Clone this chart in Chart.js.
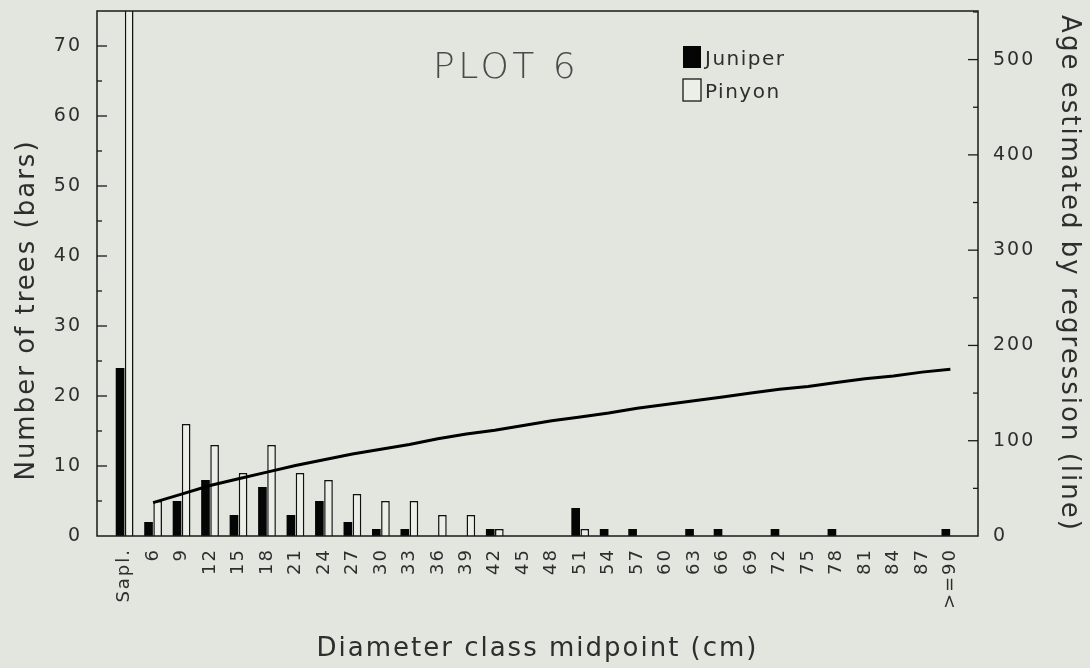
<!DOCTYPE html>
<html>
<head>
<meta charset="utf-8">
<script src="https://cdn.jsdelivr.net/npm/chart.js@4.4.1/dist/chart.umd.min.js"></script>
<style>
  html, body { margin: 0; padding: 0; background: #e3e6df; }
  canvas { display: block; }
</style>
</head>
<body>
<canvas id="plot6" width="1090" height="668"></canvas>
<script>
// diameter classes (cm), first one is saplings
const categories = ["Sapl.", "6", "9", "12", "15", "18", "21", "24", "27", "30", "33", "36", "39", "42", "45",
  "48", "51", "54", "57", "60", "63", "66", "69", "72", "75", "78", "81", "84", "87", ">=90"];

// number of trees per class (left axis)
const juniper = [24, 2, 5, 8, 3, 7, 3, 5, 2, 1, 1, 0, 0, 1, 0, 0, 4, 1, 1, 0, 1, 1, 0, 1, 0, 1, 0, 0, 0, 1];
const pinyon = [80, 5, 16, 13, 9, 13, 9, 8, 6, 5, 5, 3, 3, 1, 0, 0, 1, 0, 0, 0, 0, 0, 0, 0, 0, 0, 0, 0, 0, 0];

// regression age for classes 6 .. >=90 (right axis)
const age = [35, 44, 53, 60, 67, 74, 80, 86, 91, 96, 102, 107, 111, 116, 121, 125, 129, 134, 138, 142,
  146, 150, 154, 157, 161, 165, 168, 172, 175];

const leftTicks = [0, 10, 20, 30, 40, 50, 60, 70];
const rightTicks = [0, 100, 200, 300, 400, 500];

const textColor = "#2e2e2e";
const family = "'DejaVu Sans', sans-serif";

function noPadding(scale) {
  scale.paddingLeft = 0;
  scale.paddingRight = 0;
  scale.paddingTop = 0;
  scale.paddingBottom = 0;
}

// frame, inward ticks, left title, plot title and legend
const decor = {
  id: "decor",
  beforeDraw(chart) {
    chart.ctx.letterSpacing = "2px";
  },
  afterDraw(chart) {
    const ctx = chart.ctx;
    const area = chart.chartArea;
    const y = chart.scales.y;
    const y2 = chart.scales.y2;
    ctx.save();
    ctx.strokeStyle = "#1a1a1a";
    ctx.lineWidth = 1.5;
    ctx.strokeRect(area.left, area.top, area.right - area.left, area.bottom - area.top);

    ctx.lineWidth = 1.3;
    for (let v = 5; v < 75; v += 5) {
      const py = y.getPixelForValue(v);
      const len = v % 10 === 0 ? 10 : 5;
      ctx.beginPath();
      ctx.moveTo(area.left, py);
      ctx.lineTo(area.left + len, py);
      ctx.stroke();
    }
    for (let v = 50; v < 551; v += 50) {
      const py = y2.getPixelForValue(v);
      const len = v % 100 === 0 ? 10 : 5;
      ctx.beginPath();
      ctx.moveTo(area.right, py);
      ctx.lineTo(area.right - len, py);
      ctx.stroke();
    }

    // left axis title sits a bit below the axis middle in the original
    ctx.save();
    ctx.translate(27, 310);
    ctx.rotate(-Math.PI / 2);
    ctx.fillStyle = textColor;
    ctx.font = "26px " + family;
    ctx.textAlign = "center";
    ctx.textBaseline = "middle";
    ctx.fillText("Number of trees (bars)", 0, 0);
    ctx.restore();

    ctx.fillStyle = "#4a4a4a";
    ctx.letterSpacing = "3.5px";
    ctx.font = "200 36px " + family;
    ctx.textAlign = "left";
    ctx.textBaseline = "alphabetic";
    ctx.fillText("PLOT 6", 433, 78);

    const sets = chart.data.datasets;
    ctx.letterSpacing = "1.5px";
    ctx.font = "20px " + family;
    [0, 1].forEach((k) => {
      const top = 46 + k * 33;
      ctx.fillStyle = sets[k].backgroundColor;
      ctx.fillRect(683, top, 18, 22);
      if (sets[k].borderWidth) {
        ctx.strokeStyle = "#1a1a1a";
        ctx.lineWidth = 1.3;
        ctx.strokeRect(683, top, 18, 22);
      }
      ctx.fillStyle = textColor;
      ctx.fillText(sets[k].label, 705, top + 19);
    });
    ctx.restore();
  }
};

new Chart(document.getElementById("plot6"), {
  type: "bar",
  data: {
    datasets: [
      {
        label: "Juniper",
        data: juniper.map((v, i) => ({ x: i, y: v })),
        backgroundColor: "#050505",
        borderWidth: 0,
        categoryPercentage: 0.64,
        barPercentage: 0.95,
        yAxisID: "y",
        order: 2
      },
      {
        label: "Pinyon",
        data: pinyon.map((v, i) => ({ x: i, y: v })),
        backgroundColor: "#eceee8",
        borderColor: "#111",
        borderWidth: 1.5,
        categoryPercentage: 0.64,
        barPercentage: 0.95,
        yAxisID: "y",
        order: 2
      },
      {
        type: "line",
        label: "Age",
        data: age.map((v, i) => ({ x: i + 1, y: v })),
        borderColor: "#000",
        borderWidth: 3,
        pointRadius: 0,
        tension: 0,
        yAxisID: "y2",
        order: 0
      }
    ]
  },
  options: {
    responsive: false,
    devicePixelRatio: 1,
    animation: false,
    layout: { padding: { top: 11, left: 0, right: 0, bottom: 0 } },
    plugins: {
      legend: { display: false },
      tooltip: { enabled: false }
    },
    scales: {
      x: {
        type: "linear",
        offset: false,
        min: -0.97,
        max: 29.97,
        grid: { display: false, drawTicks: false },
        border: { display: false },
        ticks: {
          stepSize: 1,
          includeBounds: false,
          autoSkip: false,
          minRotation: 90,
          maxRotation: 90,
          padding: 12,
          color: textColor,
          font: { family: family, size: 18 },
          callback: (v) => (Number.isInteger(v) ? categories[v] : "")
        },
        title: {
          display: true,
          text: "Diameter class midpoint (cm)",
          color: textColor,
          font: { family: family, size: 26 },
          padding: { top: 0, bottom: 3 }
        },
        afterFit(scale) { scale.height = 132; noPadding(scale); }
      },
      y: {
        position: "left",
        min: 0,
        max: 75,
        grid: { display: false, drawTicks: false },
        border: { display: false },
        ticks: {
          stepSize: 10,
          includeBounds: false,
          padding: 15,
          color: textColor,
          font: { family: family, size: 19 },
          callback: (v) => (leftTicks.includes(v) ? v : "")
        },
        afterFit(scale) { scale.width = 97; noPadding(scale); }
      },
      y2: {
        position: "right",
        min: 0,
        max: 551,
        grid: { display: false, drawTicks: false },
        border: { display: false },
        ticks: {
          stepSize: 100,
          includeBounds: false,
          padding: 15,
          color: textColor,
          font: { family: family, size: 19 },
          callback: (v) => (rightTicks.includes(v) ? v : "")
        },
        title: {
          display: true,
          text: "Age estimated by regression (line)",
          color: textColor,
          font: { family: family, size: 26 },
          padding: { top: 6, bottom: 0 }
        },
        afterFit(scale) { scale.width = 112; noPadding(scale); }
      }
    }
  },
  plugins: [decor]
});
</script>
</body>
</html>
